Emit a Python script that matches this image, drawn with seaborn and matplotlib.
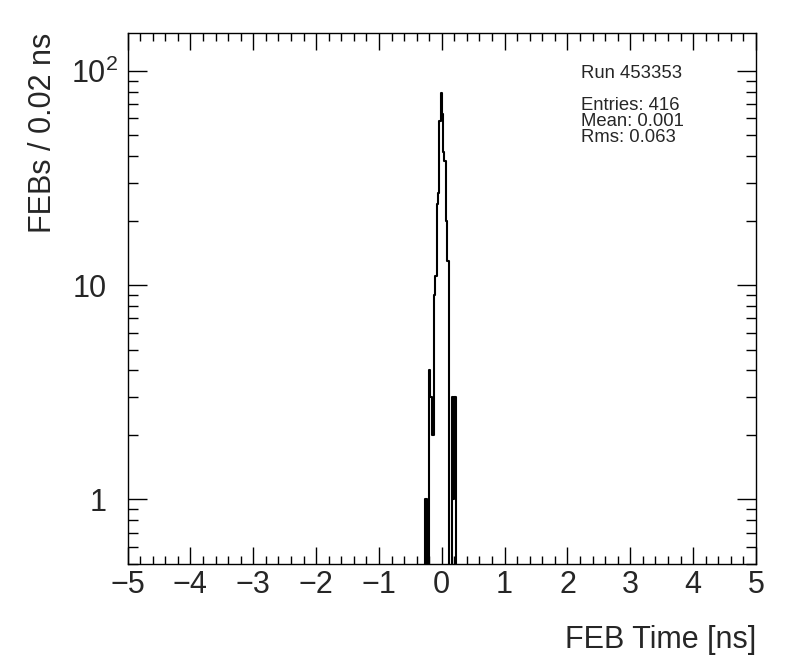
import numpy as np
import pandas as pd
import matplotlib
matplotlib.use("Agg")
import matplotlib.pyplot as plt
import matplotlib.transforms as mtransforms
import seaborn as sns
from matplotlib.ticker import MultipleLocator, LogLocator, FixedLocator, NullFormatter

# FEB timing histogram, 0.02 ns bins; only the non-empty bins are listed (lower bin edge in ns)
bin_low = [-0.26, -0.20, -0.18, -0.16, -0.14, -0.12, -0.10, -0.08, -0.06, -0.04, -0.02,
           0.00, 0.02, 0.04, 0.06, 0.08, 0.10, 0.16, 0.18, 0.20]
counts = [1, 4, 3, 2, 2, 9, 11, 24, 27, 58, 79,
          63, 42, 38, 20, 13, 13, 3, 1, 3]
bin_width = 0.02
x_range = (-5, 5)

y_tick_values = [1, 10, 100]
y_tick_labels = ["1", "10", "10$^{2}$"]

stats_lines = ["Entries: 416", "Mean: 0.001", "Rms: 0.063"]
run_label = "Run 453353"

sns.set_style("white")
plt.rcParams["font.family"] = ["Liberation Sans", "DejaVu Sans"]
plt.rcParams["mathtext.fontset"] = "custom"
plt.rcParams["mathtext.rm"] = "Liberation Sans"
plt.rcParams["mathtext.it"] = "Liberation Sans"

df = pd.DataFrame({"time": np.array(bin_low) + bin_width / 2, "n": counts})

fig = plt.figure(figsize=(7.96, 6.72), dpi=100)
ax = fig.add_axes([0.1603, 0.1607, 0.7894, 0.7902])

sns.histplot(data=df, x="time", weights="n", binwidth=bin_width, binrange=x_range,
             element="step", fill=False, color="black", linewidth=1.5, ax=ax)

ax.set_yscale("log")
ax.set_xlim(*x_range)
ax.set_ylim(0.5, 150)

# ROOT-like frame and ticks
for s in ax.spines.values():
    s.set_visible(True)
    s.set_color("black")
    s.set_linewidth(1.0)

ax.set_xticks(np.arange(-5, 6, 1))
ax.set_xticklabels([("\u2212" if v < 0 else "") + str(abs(v)) for v in range(-5, 6)])
ax.xaxis.set_minor_locator(MultipleLocator(0.2))

ax.yaxis.set_major_locator(FixedLocator(y_tick_values))
ax.yaxis.set_major_formatter(NullFormatter())
ax.yaxis.set_minor_locator(LogLocator(base=10, subs=np.arange(2, 10)))
ax.yaxis.set_minor_formatter(NullFormatter())

ax.tick_params(axis="both", which="both", direction="in", top=True, right=True,
               bottom=True, left=True, labelsize=22, width=1.0, color="black")
ax.tick_params(axis="x", which="major", length=12, pad=4)
ax.tick_params(axis="x", which="minor", length=6)
ax.tick_params(axis="y", which="major", length=13.5)
ax.tick_params(axis="y", which="minor", length=7)

# y tick labels as text so the superscript can hang past the "10"
ylab_tr = mtransforms.blended_transform_factory(ax.transAxes, ax.transData)
for val, lab in zip(y_tick_values, y_tick_labels):
    xpos = -0.0153 if "^" in lab else -0.0328
    ax.text(xpos, val, lab, transform=ylab_tr, fontsize=22, ha="right", va="center_baseline")

ax.set_xlabel("FEB Time [ns]", fontsize=22, loc="right", labelpad=18)
ax.set_ylabel("FEBs / 0.02 ns", fontsize=22, loc="top")
ax.yaxis.set_label_coords(-0.1108, 1.0)

ax.text(0.7215, 0.9228, run_label, transform=ax.transAxes, fontsize=13.3, va="center", ha="left")
for i, line in enumerate(stats_lines):
    ax.text(0.7215, 0.8644 - i * 0.031, line, transform=ax.transAxes, fontsize=13.3,
            va="center", ha="left")

fig.savefig("out.png", dpi=100, facecolor="white")
